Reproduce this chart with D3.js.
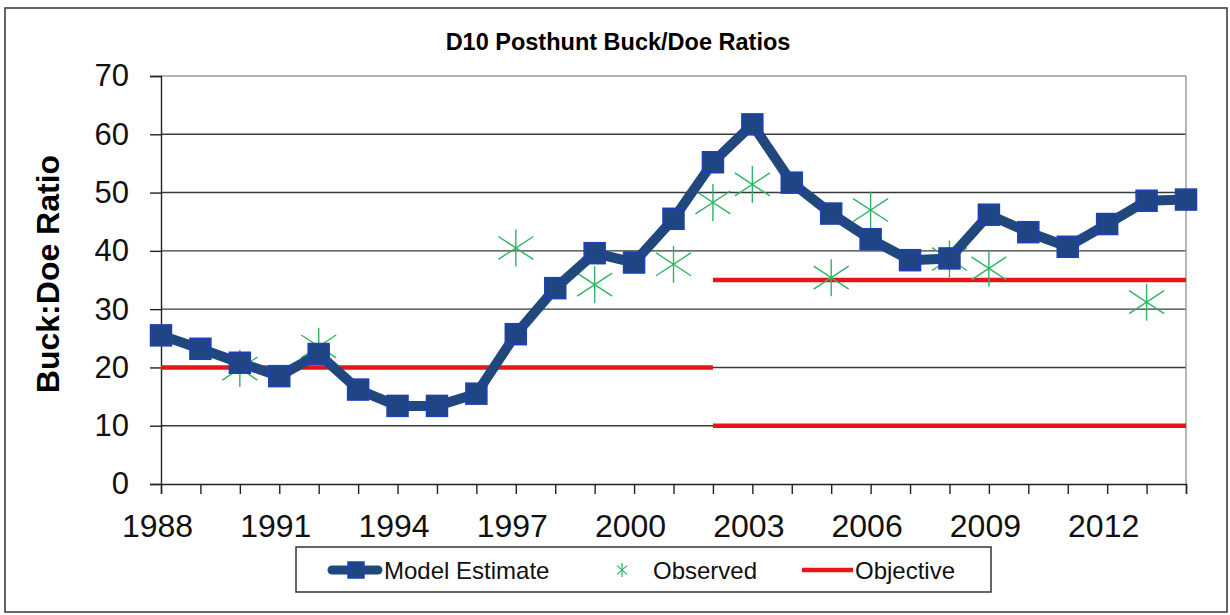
<!DOCTYPE html>
<html>
<head>
<meta charset="utf-8">
<script src="https://cdn.jsdelivr.net/npm/d3@7"></script>
<style>
  body { margin: 0; background: #fff; }
  svg { display: block; font-family: "Liberation Sans", Arial, sans-serif; }
</style>
</head>
<body>
<div class="chart"></div>
<script>
// chart data
var years = [1988, 1989, 1990, 1991, 1992, 1993, 1994, 1995, 1996, 1997, 1998, 1999, 2000,
             2001, 2002, 2003, 2004, 2005, 2006, 2007, 2008, 2009, 2010, 2011, 2012, 2013, 2014];
var modelEstimate = [25.5, 23.2, 20.8, 18.5, 22.3, 16.2, 13.4, 13.4, 15.5, 25.7, 33.6, 39.6, 38.0,
                     45.5, 55.2, 61.7, 51.7, 46.4, 42.0, 38.4, 38.7, 46.2, 43.2, 40.7, 44.6, 48.6, 48.8];
var observedYears = [1990, 1992, 1997, 1999, 2001, 2002, 2003, 2005, 2006, 2008, 2009, 2013];
var observedValues = [19.8, 23.6, 40.5, 34.2, 37.7, 48.3, 51.4, 35.4, 47.0, 38.6, 37.0, 31.2];
var objectiveFrom = [1988, 2002, 2002];
var objectiveTo = [2002, 2014, 2014];
var objectiveValues = [20, 35, 10];
var yTicks = [0, 10, 20, 30, 40, 50, 60, 70];
var xTickLabels = [1988, 1991, 1994, 1997, 2000, 2003, 2006, 2009, 2012];

var width = 1230,
    height = 615;

var svg = d3.select(".chart").append("svg")
    .attr("width", width)
    .attr("height", height);

// outer frame
svg.append("rect")
    .attr("x", 5).attr("y", 8)
    .attr("width", 1222).attr("height", 604)
    .attr("fill", "#fff")
    .attr("stroke", "#333")
    .attr("stroke-width", 1.5);

var x = d3.scaleLinear().domain([1988, 2014]).range([161, 1186]);
var y = d3.scaleLinear().domain([0, 70]).range([484, 76]);

// title
svg.append("text")
    .attr("x", 618).attr("y", 50)
    .attr("text-anchor", "middle")
    .style("font-size", "23.5px")
    .style("font-weight", "bold")
    .text("D10 Posthunt Buck/Doe Ratios");

// y axis title
svg.append("text")
    .attr("transform", "translate(59,274) rotate(-90)")
    .attr("text-anchor", "middle")
    .style("font-size", "32px")
    .style("font-weight", "bold")
    .text("Buck:Doe Ratio");

// gridlines
svg.append("g").selectAll("line")
    .data(yTicks.filter(function(d) { return d > 0; }))
  .enter().append("line")
    .attr("x1", x(1988)).attr("x2", x(2014))
    .attr("y1", function(d) { return y(d); })
    .attr("y2", function(d) { return y(d); })
    .attr("stroke", function(d) { return d == 70 ? "#999" : "#3a3a3a"; })
    .attr("stroke-width", 1.4);

// right border of plot area
svg.append("line")
    .attr("x1", x(2014)).attr("x2", x(2014))
    .attr("y1", y(70)).attr("y2", y(0))
    .attr("stroke", "#999").attr("stroke-width", 1.4);

// y axis
var yAxis = svg.append("g")
    .attr("transform", "translate(" + x(1988) + ",0)")
    .call(d3.axisLeft(y).tickValues(yTicks).tickSize(11).tickPadding(21));
yAxis.select(".domain").attr("stroke", "#222").attr("stroke-width", 1.4);
yAxis.selectAll(".tick line").attr("stroke", "#222").attr("stroke-width", 1.4);
yAxis.selectAll(".tick text")
    .attr("fill", "#111")
    .style("font-size", "31px")
    .style("font-family", "\"Liberation Sans\", Arial, sans-serif");

// x axis: a tick per year, a label every third year
var xAxis = svg.append("g")
    .attr("transform", "translate(0," + y(0) + ")")
    .call(d3.axisBottom(x).tickValues(years).tickSize(10).tickPadding(20)
      .tickFormat(function(d) { return xTickLabels.indexOf(d) >= 0 ? d : ""; }));
xAxis.select(".domain").attr("stroke", "#222").attr("stroke-width", 1.4);
xAxis.selectAll(".tick line").attr("stroke", "#222").attr("stroke-width", 1.4);
xAxis.selectAll(".tick text")
    .attr("fill", "#111")
    .attr("dx", "-4")
    .style("font-size", "32px")
    .style("font-family", "\"Liberation Sans\", Arial, sans-serif");

// objective lines
svg.append("g").selectAll("line")
    .data(objectiveValues)
  .enter().append("line")
    .attr("x1", function(d, i) { return x(objectiveFrom[i]); })
    .attr("x2", function(d, i) { return x(objectiveTo[i]); })
    .attr("y1", function(d) { return y(d); })
    .attr("y2", function(d) { return y(d); })
    .attr("stroke", "#e8141c")
    .attr("stroke-width", 4.5);

// observed asterisks
function asterisk(sel, w, h) {
  sel.append("line").attr("x1", 0).attr("x2", 0).attr("y1", -h).attr("y2", h);
  sel.append("line").attr("x1", -w).attr("x2", w).attr("y1", -h * 0.62).attr("y2", h * 0.62);
  sel.append("line").attr("x1", -w).attr("x2", w).attr("y1", h * 0.62).attr("y2", -h * 0.62);
}

var obs = svg.append("g").selectAll("g")
    .data(observedValues)
  .enter().append("g")
    .attr("transform", function(d, i) { return "translate(" + x(observedYears[i]) + "," + y(d) + ")"; })
    .attr("stroke", "#2fb463")
    .attr("stroke-width", 1.4);
obs.each(function() { asterisk(d3.select(this), 17.5, 18.5); });

// model estimate line
var line = d3.line()
    .x(function(d, i) { return x(years[i]); })
    .y(function(d) { return y(d); });

svg.append("path")
    .datum(modelEstimate)
    .attr("d", line)
    .attr("fill", "none")
    .attr("stroke", "#21487c")
    .attr("stroke-width", 10)
    .attr("stroke-linejoin", "round");

svg.append("g").selectAll("rect")
    .data(modelEstimate)
  .enter().append("rect")
    .attr("x", function(d, i) { return x(years[i]) - 10.5; })
    .attr("y", function(d) { return y(d) - 10.5; })
    .attr("width", 21).attr("height", 21)
    .attr("fill", "#1f4584")
    .attr("stroke", "#2040b8")
    .attr("stroke-width", 1.5);

// legend
var legend = svg.append("g");
legend.append("rect")
    .attr("x", 296).attr("y", 547)
    .attr("width", 695).attr("height", 45)
    .attr("fill", "#fff")
    .attr("stroke", "#333")
    .attr("stroke-width", 1.5);

legend.append("line")
    .attr("x1", 332).attr("x2", 378).attr("y1", 570).attr("y2", 570)
    .attr("stroke", "#21487c").attr("stroke-width", 9).attr("stroke-linecap", "round");
legend.append("rect")
    .attr("x", 348).attr("y", 562).attr("width", 16).attr("height", 16)
    .attr("fill", "#1f4584").attr("stroke", "#2040b8").attr("stroke-width", 1.5);

var legAst = legend.append("g")
    .attr("transform", "translate(622,570)")
    .attr("stroke", "#2fb463").attr("stroke-width", 1.2);
asterisk(legAst, 5, 7);

legend.append("line")
    .attr("x1", 802).attr("x2", 853).attr("y1", 570).attr("y2", 570)
    .attr("stroke", "#e8141c").attr("stroke-width", 4.5);

var legText = [["Model Estimate", 384], ["Observed", 653], ["Objective", 855]];
legend.selectAll("text.leg")
    .data(legText)
  .enter().append("text")
    .attr("class", "leg")
    .attr("x", function(d) { return d[1]; })
    .attr("y", 579)
    .style("font-size", "24px")
    .attr("fill", "#111")
    .text(function(d) { return d[0]; });
</script>
</body>
</html>
